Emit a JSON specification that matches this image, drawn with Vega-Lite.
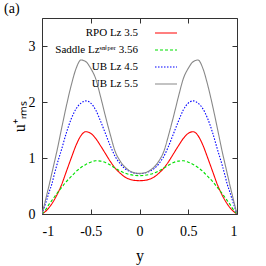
{
  "$schema": "https://vega.github.io/schema/vega-lite/v6.json",
  "autosize": "none",
  "width": 195,
  "height": 196,
  "padding": {"left": 42, "top": 18, "right": 29, "bottom": 52},
  "background": "white",
  "config": {
    "font": "Liberation Serif",
    "view": {"stroke": "#333333", "strokeWidth": 1},
    "axis": {"grid": false, "domain": false, "labelFont": "Liberation Serif", "titleFont": "Liberation Serif", "labelFontSize": 14, "titleFontSize": 16, "labelColor": "black", "titleColor": "black", "titleFontWeight": "normal", "tickColor": "#333333", "tickSize": -5, "labelPadding": 10}
  },
  "title": {"text": "(a)", "anchor": "start", "frame": "group", "fontSize": 14, "fontWeight": "normal", "font": "Liberation Serif", "dx": -38, "offset": 2, "color": "black"},
  "data": {"values": [
    {"s":"a","x":-1,"u":0},{"s":"a","x":-0.975,"u":0.03},{"s":"a","x":-0.95,"u":0.07},{"s":"a","x":-0.925,"u":0.12},{"s":"a","x":-0.9,"u":0.18},{"s":"a","x":-0.875,"u":0.25},{"s":"a","x":-0.85,"u":0.33},{"s":"a","x":-0.8,"u":0.52},{"s":"a","x":-0.75,"u":0.76},{"s":"a","x":-0.7,"u":1.0},{"s":"a","x":-0.65,"u":1.23},{"s":"a","x":-0.6,"u":1.4},{"s":"a","x":-0.55,"u":1.47},{"s":"a","x":-0.5,"u":1.44},{"s":"a","x":-0.45,"u":1.35},{"s":"a","x":-0.4,"u":1.22},{"s":"a","x":-0.35,"u":1.08},{"s":"a","x":-0.3,"u":0.94},{"s":"a","x":-0.25,"u":0.82},{"s":"a","x":-0.2,"u":0.73},{"s":"a","x":-0.15,"u":0.66},{"s":"a","x":-0.1,"u":0.62},{"s":"a","x":-0.05,"u":0.6},{"s":"a","x":0,"u":0.595},
    {"s":"a","x":0.05,"u":0.6},{"s":"a","x":0.1,"u":0.62},{"s":"a","x":0.15,"u":0.66},{"s":"a","x":0.2,"u":0.73},{"s":"a","x":0.25,"u":0.82},{"s":"a","x":0.3,"u":0.94},{"s":"a","x":0.35,"u":1.08},{"s":"a","x":0.4,"u":1.22},{"s":"a","x":0.45,"u":1.35},{"s":"a","x":0.5,"u":1.44},{"s":"a","x":0.55,"u":1.47},{"s":"a","x":0.6,"u":1.4},{"s":"a","x":0.65,"u":1.23},{"s":"a","x":0.7,"u":1.0},{"s":"a","x":0.75,"u":0.76},{"s":"a","x":0.8,"u":0.52},{"s":"a","x":0.85,"u":0.33},{"s":"a","x":0.875,"u":0.25},{"s":"a","x":0.9,"u":0.18},{"s":"a","x":0.925,"u":0.12},{"s":"a","x":0.95,"u":0.07},{"s":"a","x":0.975,"u":0.03},{"s":"a","x":1,"u":0},
    {"s":"b","x":-1,"u":0},{"s":"b","x":-0.975,"u":0.05},{"s":"b","x":-0.95,"u":0.11},{"s":"b","x":-0.925,"u":0.18},{"s":"b","x":-0.9,"u":0.24},{"s":"b","x":-0.875,"u":0.3},{"s":"b","x":-0.85,"u":0.36},{"s":"b","x":-0.8,"u":0.47},{"s":"b","x":-0.75,"u":0.58},{"s":"b","x":-0.7,"u":0.67},{"s":"b","x":-0.65,"u":0.76},{"s":"b","x":-0.6,"u":0.83},{"s":"b","x":-0.55,"u":0.885},{"s":"b","x":-0.5,"u":0.925},{"s":"b","x":-0.45,"u":0.95},{"s":"b","x":-0.4,"u":0.945},{"s":"b","x":-0.35,"u":0.92},{"s":"b","x":-0.3,"u":0.875},{"s":"b","x":-0.25,"u":0.82},{"s":"b","x":-0.2,"u":0.77},{"s":"b","x":-0.15,"u":0.73},{"s":"b","x":-0.1,"u":0.705},{"s":"b","x":-0.05,"u":0.69},{"s":"b","x":0,"u":0.685},
    {"s":"b","x":0.05,"u":0.69},{"s":"b","x":0.1,"u":0.705},{"s":"b","x":0.15,"u":0.73},{"s":"b","x":0.2,"u":0.77},{"s":"b","x":0.25,"u":0.82},{"s":"b","x":0.3,"u":0.875},{"s":"b","x":0.35,"u":0.92},{"s":"b","x":0.4,"u":0.945},{"s":"b","x":0.45,"u":0.95},{"s":"b","x":0.5,"u":0.925},{"s":"b","x":0.55,"u":0.885},{"s":"b","x":0.6,"u":0.83},{"s":"b","x":0.65,"u":0.76},{"s":"b","x":0.7,"u":0.67},{"s":"b","x":0.75,"u":0.58},{"s":"b","x":0.8,"u":0.47},{"s":"b","x":0.85,"u":0.36},{"s":"b","x":0.875,"u":0.3},{"s":"b","x":0.9,"u":0.24},{"s":"b","x":0.925,"u":0.18},{"s":"b","x":0.95,"u":0.11},{"s":"b","x":0.975,"u":0.05},{"s":"b","x":1,"u":0},
    {"s":"c","x":-1,"u":0},{"s":"c","x":-0.975,"u":0.13},{"s":"c","x":-0.95,"u":0.26},{"s":"c","x":-0.925,"u":0.4},{"s":"c","x":-0.9,"u":0.53},{"s":"c","x":-0.875,"u":0.7},{"s":"c","x":-0.85,"u":0.86},{"s":"c","x":-0.8,"u":1.15},{"s":"c","x":-0.75,"u":1.45},{"s":"c","x":-0.7,"u":1.7},{"s":"c","x":-0.65,"u":1.88},{"s":"c","x":-0.6,"u":1.98},{"s":"c","x":-0.55,"u":2.02},{"s":"c","x":-0.5,"u":1.98},{"s":"c","x":-0.45,"u":1.86},{"s":"c","x":-0.4,"u":1.66},{"s":"c","x":-0.35,"u":1.44},{"s":"c","x":-0.3,"u":1.22},{"s":"c","x":-0.25,"u":1.03},{"s":"c","x":-0.2,"u":0.9},{"s":"c","x":-0.15,"u":0.81},{"s":"c","x":-0.1,"u":0.76},{"s":"c","x":-0.05,"u":0.73},{"s":"c","x":0,"u":0.72},
    {"s":"c","x":0.05,"u":0.73},{"s":"c","x":0.1,"u":0.76},{"s":"c","x":0.15,"u":0.81},{"s":"c","x":0.2,"u":0.9},{"s":"c","x":0.25,"u":1.03},{"s":"c","x":0.3,"u":1.22},{"s":"c","x":0.35,"u":1.44},{"s":"c","x":0.4,"u":1.66},{"s":"c","x":0.45,"u":1.86},{"s":"c","x":0.5,"u":1.98},{"s":"c","x":0.55,"u":2.02},{"s":"c","x":0.6,"u":1.98},{"s":"c","x":0.65,"u":1.88},{"s":"c","x":0.7,"u":1.7},{"s":"c","x":0.75,"u":1.45},{"s":"c","x":0.8,"u":1.15},{"s":"c","x":0.85,"u":0.86},{"s":"c","x":0.875,"u":0.7},{"s":"c","x":0.9,"u":0.53},{"s":"c","x":0.925,"u":0.4},{"s":"c","x":0.95,"u":0.26},{"s":"c","x":0.975,"u":0.13},{"s":"c","x":1,"u":0},
    {"s":"d","x":-1,"u":0},{"s":"d","x":-0.975,"u":0.17},{"s":"d","x":-0.95,"u":0.35},{"s":"d","x":-0.925,"u":0.53},{"s":"d","x":-0.9,"u":0.72},{"s":"d","x":-0.875,"u":0.91},{"s":"d","x":-0.85,"u":1.1},{"s":"d","x":-0.8,"u":1.52},{"s":"d","x":-0.75,"u":1.93},{"s":"d","x":-0.7,"u":2.3},{"s":"d","x":-0.65,"u":2.6},{"s":"d","x":-0.6,"u":2.75},{"s":"d","x":-0.55,"u":2.72},{"s":"d","x":-0.5,"u":2.6},{"s":"d","x":-0.45,"u":2.42},{"s":"d","x":-0.4,"u":2.1},{"s":"d","x":-0.35,"u":1.75},{"s":"d","x":-0.3,"u":1.42},{"s":"d","x":-0.25,"u":1.12},{"s":"d","x":-0.2,"u":0.95},{"s":"d","x":-0.15,"u":0.84},{"s":"d","x":-0.1,"u":0.77},{"s":"d","x":-0.05,"u":0.735},{"s":"d","x":0,"u":0.725},
    {"s":"d","x":0.05,"u":0.735},{"s":"d","x":0.1,"u":0.77},{"s":"d","x":0.15,"u":0.84},{"s":"d","x":0.2,"u":0.95},{"s":"d","x":0.25,"u":1.12},{"s":"d","x":0.3,"u":1.42},{"s":"d","x":0.35,"u":1.75},{"s":"d","x":0.4,"u":2.1},{"s":"d","x":0.45,"u":2.42},{"s":"d","x":0.5,"u":2.6},{"s":"d","x":0.55,"u":2.72},{"s":"d","x":0.6,"u":2.75},{"s":"d","x":0.65,"u":2.6},{"s":"d","x":0.7,"u":2.3},{"s":"d","x":0.75,"u":1.93},{"s":"d","x":0.8,"u":1.52},{"s":"d","x":0.85,"u":1.1},{"s":"d","x":0.875,"u":0.91},{"s":"d","x":0.9,"u":0.72},{"s":"d","x":0.925,"u":0.53},{"s":"d","x":0.95,"u":0.35},{"s":"d","x":0.975,"u":0.17},{"s":"d","x":1,"u":0}
  ]},
  "layer": [
    {
      "mark": {"type": "line", "strokeWidth": 1.1, "interpolate": "monotone", "clip": true},
      "encoding": {
        "x": {"field": "x", "type": "quantitative", "scale": {"domain": [-1, 1], "nice": false}, "axis": {"values": [-1, -0.5, 0, 0.5, 1], "labelExpr": "replace(format(datum.value, '~g'), '−', '-')", "labelFont": "Liberation Serif", "titleFont": "Liberation Serif", "title": "y", "labelPadding": 15, "titlePadding": 9}},
        "y": {"field": "u", "type": "quantitative", "scale": {"domain": [0, 3.5], "nice": false}, "axis": {"values": [0, 1, 2, 3], "labelExpr": "format(datum.value, '~g')", "labelFont": "Liberation Serif", "titleFont": "Liberation Serif", "title": "u⁺ᵣₘₛ", "labelPadding": 12, "titlePadding": 1}},
        "color": {"field": "s", "type": "nominal", "scale": {"domain": ["a", "b", "c", "d"], "range": ["#ff0000", "#00e000", "#0000ff", "#888888"]},
          "legend": {"orient": "none", "legendX": 112, "legendY": 3, "title": null, "labelAlign": "right", "labelOffset": -40, "labelFont": "Liberation Serif", "labelFontSize": 11, "labelColor": "black", "symbolType": "stroke", "symbolSize": 484, "symbolStrokeWidth": 1.1, "rowPadding": -6.3, "padding": 0,
            "labelExpr": "datum.value == 'a' ? 'RPO Lz 3.5' : datum.value == 'b' ? 'Saddle Lzˢⁿⁱᵖᵉʳ 3.56' : datum.value == 'c' ? 'UB Lz 4.5' : 'UB Lz 5.5'"}},
        "strokeDash": {"field": "s", "type": "nominal", "scale": {"domain": ["a", "b", "c", "d"], "range": [[1, 0], [3, 2], [1.5, 1.5], [1, 0]]}}
      }
    },
    {
      "mark": {"type": "line", "opacity": 0},
      "encoding": {
        "x": {"field": "x", "type": "quantitative", "scale": {"domain": [-1, 1], "nice": false}, "axis": {"orient": "top", "values": [-1, -0.5, 0, 0.5, 1], "labels": false, "title": null}},
        "y": {"field": "u", "type": "quantitative", "scale": {"domain": [0, 3.5], "nice": false}, "axis": {"orient": "right", "values": [0, 1, 2, 3], "labels": false, "title": null}}
      }
    }
  ],
  "resolve": {"axis": {"x": "independent", "y": "independent"}}
}
